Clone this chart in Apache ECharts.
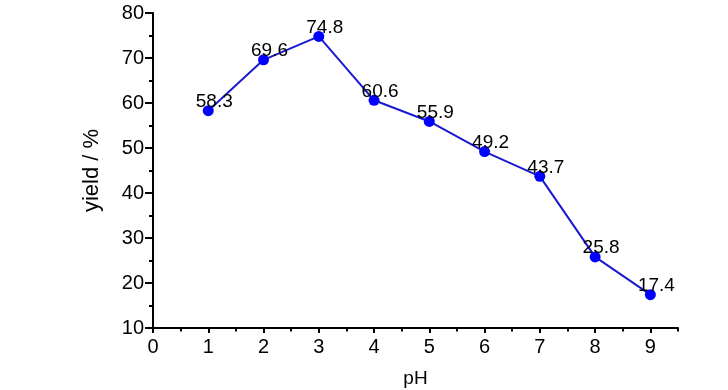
<!DOCTYPE html>
<html>
<head>
<meta charset="utf-8">
<script src="https://cdn.jsdelivr.net/npm/echarts@6/dist/echarts.min.js"></script>
<style>
html,body{margin:0;padding:0;background:#fff;}
#main{width:728px;height:390px;}
</style>
</head>
<body>
<div id="main"></div>
<script>
const phValues = [1, 2, 3, 4, 5, 6, 7, 8, 9];
const yieldValues = [58.3, 69.6, 74.8, 60.6, 55.9, 49.2, 43.7, 25.8, 17.4];
const xTickValues = [0, 1, 2, 3, 4, 5, 6, 7, 8, 9];
const xName = 'pH';
const yName = 'yield / %';

const font = 'Liberation Sans, Arial, sans-serif';
const chart = echarts.init(document.getElementById('main'), null, {renderer: 'canvas'});
const axisLine = {show: true, lineStyle: {color: '#000', width: 2}};
chart.setOption({
  animation: false,
  backgroundColor: '#fff',
  grid: {left: 153, right: 50, top: 13, bottom: 62, containLabel: false, outerBoundsMode: 'none'},
  xAxis: [{
    type: 'value', min: 0, max: 9.5, interval: 1,
    name: xName, nameLocation: 'middle', nameGap: 41,
    nameTextStyle: {fontFamily: font, fontSize: 19, color: '#000'},
    axisLine: axisLine,
    axisTick: {show: true, length: 5, inside: false, customValues: xTickValues, lineStyle: {color: '#000', width: 2}},
    axisLabel: {customValues: xTickValues, margin: 9, fontFamily: font, fontSize: 20, color: '#000'},
    splitLine: {show: false}
  }, {
    type: 'value', min: 0, max: 9.5, interval: 0.5, position: 'bottom',
    axisLine: {show: false},
    axisTick: {show: true, length: 3.5, lineStyle: {color: '#000', width: 2}},
    axisLabel: {show: false},
    splitLine: {show: false}
  }],
  yAxis: {
    type: 'value', min: 10, max: 80, interval: 10,
    name: yName, nameLocation: 'middle', nameGap: 50, nameRotate: 90,
    nameTextStyle: {fontFamily: font, fontSize: 22, color: '#000'},
    axisLine: axisLine,
    axisTick: {show: true, length: 8, lineStyle: {color: '#000', width: 2}},
    minorTick: {show: true, splitNumber: 2, length: 4, lineStyle: {color: '#000', width: 2}},
    axisLabel: {margin: 9, fontFamily: font, fontSize: 20, color: '#000'},
    splitLine: {show: false}
  },
  series: [{
    type: 'line',
    xAxisIndex: 0,
    data: phValues.map((x, i) => [x, yieldValues[i]]),
    symbol: 'circle', symbolSize: 11,
    itemStyle: {color: '#0000ff'},
    lineStyle: {color: '#1a1ad0', width: 2},
    label: {show: true, position: 'top', distance: 0, offset: [6, 6],
      fontFamily: font, fontSize: 19, color: '#000',
      formatter: p => p.value[1].toFixed(1)}
  }]
});
</script>
</body>
</html>
